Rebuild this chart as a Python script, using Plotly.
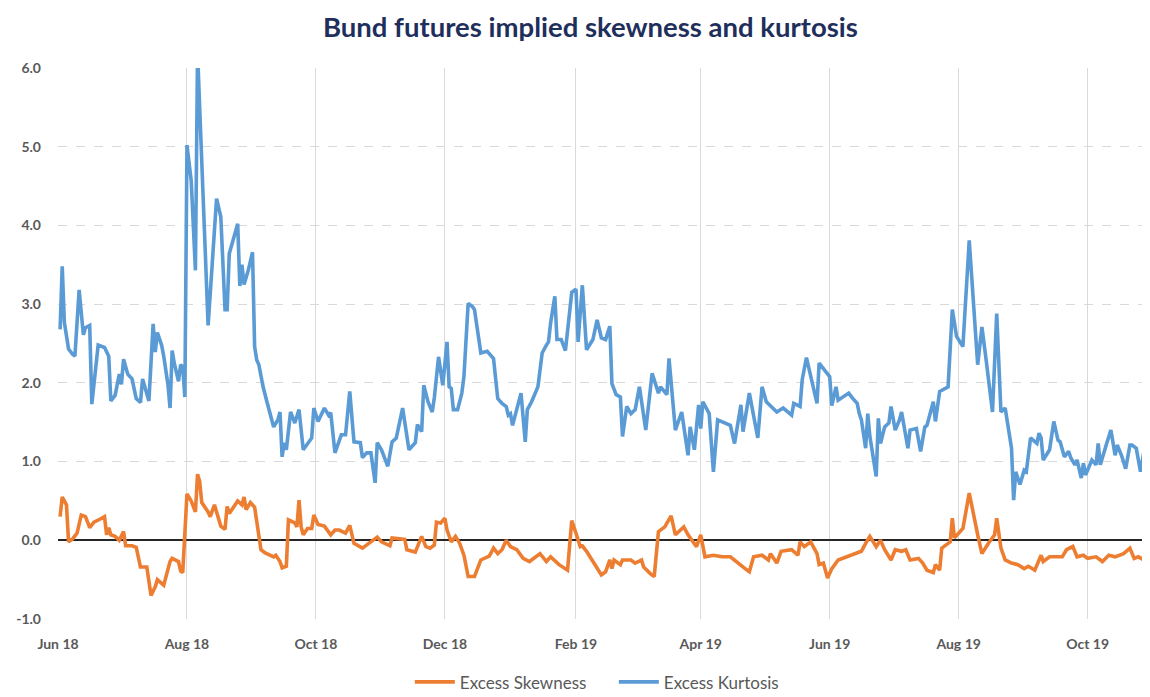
import plotly.graph_objects as go

title_text = "Bund futures implied skewness and kurtosis"

kurt_dates = [
    "2018-06-02", "2018-06-03", "2018-06-04", "2018-06-06", "2018-06-08", "2018-06-09", "2018-06-11",
    "2018-06-13", "2018-06-14", "2018-06-16", "2018-06-17", "2018-06-20", "2018-06-23", "2018-06-25",
    "2018-06-26", "2018-06-28", "2018-06-30", "2018-07-01", "2018-07-02", "2018-07-04", "2018-07-06",
    "2018-07-08", "2018-07-10", "2018-07-11", "2018-07-14", "2018-07-16", "2018-07-17", "2018-07-18",
    "2018-07-20", "2018-07-21", "2018-07-23", "2018-07-24", "2018-07-25", "2018-07-26", "2018-07-28",
    "2018-07-29", "2018-07-30", "2018-07-31", "2018-08-01", "2018-08-03", "2018-08-05", "2018-08-06",
    "2018-08-11", "2018-08-15", "2018-08-17", "2018-08-19", "2018-08-20", "2018-08-21", "2018-08-25",
    "2018-08-26", "2018-08-27", "2018-08-28", "2018-08-30", "2018-09-01", "2018-09-02", "2018-09-03",
    "2018-09-04", "2018-09-06", "2018-09-08", "2018-09-11", "2018-09-13", "2018-09-14", "2018-09-15",
    "2018-09-16", "2018-09-17", "2018-09-19", "2018-09-21", "2018-09-23", "2018-09-25", "2018-09-29",
    "2018-09-30", "2018-10-02", "2018-10-05", "2018-10-07", "2018-10-08", "2018-10-10", "2018-10-13",
    "2018-10-15", "2018-10-17", "2018-10-19", "2018-10-22", "2018-10-23", "2018-10-25", "2018-10-27",
    "2018-10-29", "2018-10-30", "2018-11-01", "2018-11-04", "2018-11-06", "2018-11-08", "2018-11-11",
    "2018-11-14", "2018-11-17", "2018-11-18", "2018-11-20", "2018-11-21", "2018-11-23", "2018-11-25",
    "2018-11-26", "2018-11-28", "2018-11-30", "2018-12-02", "2018-12-03", "2018-12-04", "2018-12-05",
    "2018-12-07", "2018-12-09", "2018-12-10", "2018-12-12", "2018-12-14", "2018-12-15", "2018-12-18",
    "2018-12-21", "2018-12-24", "2018-12-26", "2018-12-28", "2018-12-30", "2018-12-31", "2019-01-01",
    "2019-01-02", "2019-01-06", "2019-01-07", "2019-01-08", "2019-01-09", "2019-01-11", "2019-01-14",
    "2019-01-16", "2019-01-18", "2019-01-19", "2019-01-20", "2019-01-22", "2019-01-23", "2019-01-25",
    "2019-01-27", "2019-01-29", "2019-01-30", "2019-02-01", "2019-02-02", "2019-02-04", "2019-02-06",
    "2019-02-09", "2019-02-11", "2019-02-13", "2019-02-15", "2019-02-17", "2019-02-18", "2019-02-20",
    "2019-02-22", "2019-02-23", "2019-02-25", "2019-02-27", "2019-03-01", "2019-03-03", "2019-03-06",
    "2019-03-09", "2019-03-12", "2019-03-13", "2019-03-16", "2019-03-17", "2019-03-20", "2019-03-23",
    "2019-03-26", "2019-03-27", "2019-03-29", "2019-03-31", "2019-04-01", "2019-04-02", "2019-04-05",
    "2019-04-07", "2019-04-09", "2019-04-15", "2019-04-17", "2019-04-20", "2019-04-21", "2019-04-24",
    "2019-04-28", "2019-04-30", "2019-05-02", "2019-05-07", "2019-05-10", "2019-05-14", "2019-05-15",
    "2019-05-18", "2019-05-19", "2019-05-21", "2019-05-23", "2019-05-26", "2019-05-27", "2019-05-30",
    "2019-06-01", "2019-06-02", "2019-06-04", "2019-06-05", "2019-06-07", "2019-06-10", "2019-06-12",
    "2019-06-14", "2019-06-15", "2019-06-16", "2019-06-18", "2019-06-19", "2019-06-20", "2019-06-23",
    "2019-06-24", "2019-06-25", "2019-06-27", "2019-06-29", "2019-06-30", "2019-07-02", "2019-07-04",
    "2019-07-05", "2019-07-08", "2019-07-09", "2019-07-12", "2019-07-14", "2019-07-16", "2019-07-17",
    "2019-07-20", "2019-07-21", "2019-07-23", "2019-07-27", "2019-07-29", "2019-07-31", "2019-08-03",
    "2019-08-06", "2019-08-10", "2019-08-12", "2019-08-14", "2019-08-17", "2019-08-19", "2019-08-21",
    "2019-08-23", "2019-08-26", "2019-08-27", "2019-08-28", "2019-08-30", "2019-09-01", "2019-09-02",
    "2019-09-04", "2019-09-07", "2019-09-08", "2019-09-09", "2019-09-10", "2019-09-13", "2019-09-15",
    "2019-09-17", "2019-09-18", "2019-09-20", "2019-09-22", "2019-09-23", "2019-09-25", "2019-09-26",
    "2019-09-28", "2019-09-29", "2019-09-30", "2019-10-03", "2019-10-05", "2019-10-06", "2019-10-07",
    "2019-10-10", "2019-10-12", "2019-10-14", "2019-10-15", "2019-10-17", "2019-10-19", "2019-10-21",
    "2019-10-22", "2019-10-24", "2019-10-26", "2019-10-28", "2019-10-31",
]
kurt_values = [
    2.68, 3.48, 2.77, 2.43, 2.36, 2.34, 3.18,
    2.61, 2.70, 2.73, 1.73, 2.48, 2.45, 2.34,
    1.77, 1.84, 2.11, 1.98, 2.30, 2.11, 2.05,
    1.80, 1.75, 2.05, 1.77, 2.75, 2.39, 2.64,
    2.48, 2.34, 1.98, 1.68, 2.41, 2.25, 2.02,
    2.23, 2.20, 1.82, 5.02, 4.57, 3.43, 6.20,
    2.73, 4.34, 4.11, 2.93, 2.93, 3.64, 4.02,
    3.23, 3.50, 3.25, 3.43, 3.66, 2.46, 2.29,
    2.23, 1.95, 1.74, 1.44, 1.53, 1.63, 1.06,
    1.24, 1.15, 1.63, 1.49, 1.66, 1.15, 1.30,
    1.68, 1.51, 1.68, 1.59, 1.62, 1.11, 1.34,
    1.34, 1.89, 1.25, 1.24, 1.05, 1.11, 1.11,
    0.73, 1.24, 1.15, 0.94, 1.25, 1.30, 1.68,
    1.15, 1.24, 1.47, 1.38, 1.97, 1.76, 1.63,
    1.81, 2.33, 1.97, 2.52, 1.95, 1.93, 1.66,
    1.66, 1.87, 2.08, 3.01, 2.97, 2.93, 2.38,
    2.40, 2.31, 1.80, 1.74, 1.70, 1.59, 1.61,
    1.46, 1.87, 1.61, 1.25, 1.66, 1.76, 1.95,
    2.38, 2.48, 2.52, 2.76, 3.10, 2.55, 2.55,
    2.41, 2.97, 3.15, 3.19, 2.52, 3.24, 2.42,
    2.55, 2.80, 2.57, 2.55, 2.72, 1.99, 1.85,
    1.82, 1.32, 1.70, 1.61, 1.66, 1.95, 1.40,
    2.12, 1.87, 1.95, 1.85, 2.31, 1.40, 1.63,
    1.08, 1.44, 1.15, 1.72, 1.42, 1.76, 1.61,
    0.87, 1.53, 1.46, 1.23, 1.72, 1.38, 1.87,
    1.30, 1.95, 1.76, 1.63, 1.68, 1.59, 1.74,
    1.70, 2.04, 2.32, 2.08, 1.74, 2.25, 2.14,
    2.08, 1.71, 1.95, 1.78, 1.82, 1.87, 1.80,
    1.74, 1.61, 1.53, 1.17, 1.61, 1.32, 0.81,
    1.55, 1.23, 1.44, 1.49, 1.70, 1.40, 1.53,
    1.63, 1.17, 1.40, 1.42, 1.13, 1.44, 1.46,
    1.76, 1.51, 1.89, 1.95, 2.93, 2.59, 2.46,
    3.81, 2.23, 2.71, 2.29, 1.63, 2.88, 1.63,
    1.68, 1.17, 0.51, 0.87, 0.71, 0.89, 0.87,
    1.30, 1.23, 1.36, 1.30, 1.02, 1.15, 1.51,
    1.27, 1.25, 1.06, 1.13, 1.05, 0.96, 1.02,
    0.79, 0.98, 0.83, 1.02, 0.96, 1.23, 0.96,
    1.23, 1.40, 1.08, 1.21, 1.08, 0.91, 1.21,
    1.21, 1.17, 0.87, 1.19, 1.20,
]

skew_dates = [
    "2018-06-02", "2018-06-03", "2018-06-05", "2018-06-06", "2018-06-08", "2018-06-10", "2018-06-12",
    "2018-06-14", "2018-06-16", "2018-06-18", "2018-06-21", "2018-06-23", "2018-06-24", "2018-06-25",
    "2018-06-26", "2018-06-28", "2018-06-30", "2018-07-02", "2018-07-03", "2018-07-06", "2018-07-08",
    "2018-07-10", "2018-07-13", "2018-07-15", "2018-07-17", "2018-07-18", "2018-07-21", "2018-07-24",
    "2018-07-25", "2018-07-28", "2018-07-29", "2018-07-30", "2018-08-01", "2018-08-03", "2018-08-05",
    "2018-08-06", "2018-08-07", "2018-08-08", "2018-08-11", "2018-08-12", "2018-08-14", "2018-08-16",
    "2018-08-17", "2018-08-19", "2018-08-20", "2018-08-21", "2018-08-23", "2018-08-25", "2018-08-27",
    "2018-08-28", "2018-08-29", "2018-08-31", "2018-09-02", "2018-09-05", "2018-09-07", "2018-09-11",
    "2018-09-12", "2018-09-14", "2018-09-15", "2018-09-17", "2018-09-18", "2018-09-21", "2018-09-22",
    "2018-09-23", "2018-09-24", "2018-09-25", "2018-09-27", "2018-09-29", "2018-09-30", "2018-10-02",
    "2018-10-05", "2018-10-08", "2018-10-10", "2018-10-12", "2018-10-15", "2018-10-17", "2018-10-19",
    "2018-10-23", "2018-10-26", "2018-10-30", "2018-11-01", "2018-11-05", "2018-11-06", "2018-11-10",
    "2018-11-12", "2018-11-13", "2018-11-17", "2018-11-20", "2018-11-22", "2018-11-24", "2018-11-26",
    "2018-11-27", "2018-11-29", "2018-12-01", "2018-12-02", "2018-12-04", "2018-12-06", "2018-12-08",
    "2018-12-10", "2018-12-12", "2018-12-15", "2018-12-18", "2018-12-22", "2018-12-24", "2018-12-26",
    "2018-12-28", "2018-12-30", "2019-01-01", "2019-01-04", "2019-01-07", "2019-01-10", "2019-01-15",
    "2019-01-18", "2019-01-20", "2019-01-24", "2019-01-28", "2019-01-30", "2019-02-01", "2019-02-03",
    "2019-02-04", "2019-02-06", "2019-02-10", "2019-02-13", "2019-02-15", "2019-02-17", "2019-02-18",
    "2019-02-19", "2019-02-22", "2019-02-23", "2019-02-27", "2019-03-01", "2019-03-04", "2019-03-05",
    "2019-03-08", "2019-03-10", "2019-03-12", "2019-03-15", "2019-03-18", "2019-03-20", "2019-03-24",
    "2019-03-26", "2019-03-30", "2019-04-01", "2019-04-03", "2019-04-07", "2019-04-11", "2019-04-15",
    "2019-04-22", "2019-04-24", "2019-04-26", "2019-04-30", "2019-05-03", "2019-05-04", "2019-05-07",
    "2019-05-09", "2019-05-14", "2019-05-17", "2019-05-18", "2019-05-20", "2019-05-23", "2019-05-26",
    "2019-05-27", "2019-05-29", "2019-05-31", "2019-06-02", "2019-06-05", "2019-06-09", "2019-06-12",
    "2019-06-16", "2019-06-18", "2019-06-20", "2019-06-23", "2019-06-25", "2019-06-27", "2019-06-30",
    "2019-07-02", "2019-07-05", "2019-07-07", "2019-07-09", "2019-07-13", "2019-07-15", "2019-07-17",
    "2019-07-20", "2019-07-21", "2019-07-23", "2019-07-24", "2019-07-26", "2019-07-28", "2019-07-29",
    "2019-07-30", "2019-08-03", "2019-08-06", "2019-08-10", "2019-08-12", "2019-08-15", "2019-08-18",
    "2019-08-19", "2019-08-21", "2019-08-23", "2019-08-26", "2019-08-29", "2019-09-01", "2019-09-03",
    "2019-09-06", "2019-09-09", "2019-09-10", "2019-09-13", "2019-09-19", "2019-09-21", "2019-09-24",
    "2019-09-26", "2019-09-29", "2019-10-01", "2019-10-05", "2019-10-08", "2019-10-11", "2019-10-14",
    "2019-10-18", "2019-10-21", "2019-10-23", "2019-10-25", "2019-10-29", "2019-10-30", "2019-10-31",
]
skew_values = [
    0.30, 0.55, 0.45, -0.02, 0.02, 0.09, 0.32,
    0.30, 0.16, 0.23, 0.27, 0.30, 0.07, 0.16,
    0.07, 0.05, 0.00, 0.11, -0.07, -0.07, -0.09,
    -0.34, -0.34, -0.70, -0.59, -0.50, -0.57, -0.27,
    -0.23, -0.27, -0.39, -0.41, 0.59, 0.50, 0.36,
    0.84, 0.75, 0.48, 0.36, 0.30, 0.45, 0.25,
    0.18, 0.14, 0.43, 0.34, 0.43, 0.50, 0.45,
    0.55, 0.39, 0.48, 0.42, -0.12, -0.16, -0.21,
    -0.19, -0.27, -0.35, -0.33, 0.26, 0.22, 0.17,
    0.51, 0.17, 0.07, 0.15, 0.15, 0.32, 0.20,
    0.18, 0.07, 0.13, 0.13, 0.09, 0.19, -0.04,
    -0.10, -0.04, 0.04, -0.02, -0.07, 0.03, 0.02,
    0.01, -0.12, -0.15, 0.05, -0.08, -0.10, -0.06,
    0.23, 0.22, 0.28, 0.13, -0.02, 0.05, -0.04,
    -0.19, -0.46, -0.46, -0.25, -0.20, -0.10, -0.17,
    -0.12, 0.00, -0.08, -0.12, -0.23, -0.27, -0.17,
    -0.27, -0.21, -0.31, -0.38, 0.25, 0.09, -0.08,
    -0.07, -0.14, -0.31, -0.44, -0.40, -0.25, -0.36,
    -0.25, -0.31, -0.25, -0.25, -0.29, -0.25, -0.34,
    -0.42, -0.46, 0.11, 0.17, 0.31, 0.07, 0.17,
    0.07, -0.08, 0.07, -0.21, -0.19, -0.21, -0.21,
    -0.36, -0.40, -0.21, -0.19, -0.25, -0.17, -0.29,
    -0.14, -0.12, -0.19, -0.02, -0.08, -0.02, -0.17,
    -0.31, -0.29, -0.48, -0.36, -0.25, -0.21, -0.17,
    -0.14, -0.04, 0.05, -0.08, 0.00, -0.12, -0.25,
    -0.12, -0.14, -0.12, -0.25, -0.23, -0.29, -0.38,
    -0.41, -0.31, -0.38, -0.10, -0.06, -0.02, 0.28,
    0.03, 0.15, 0.60, 0.07, -0.17, -0.04, 0.07,
    0.28, -0.10, -0.25, -0.29, -0.31, -0.36, -0.33,
    -0.38, -0.19, -0.27, -0.21, -0.21, -0.12, -0.08,
    -0.21, -0.19, -0.23, -0.21, -0.27, -0.19, -0.21,
    -0.17, -0.10, -0.23, -0.21, -0.27, -0.34, -0.33,
]

series_names = ["Excess Skewness", "Excess Kurtosis"]
y_tick_values = [-1, 0, 1, 2, 3, 4, 5, 6]
y_tick_labels = ["-1.0", "0.0", "1.0", "2.0", "3.0", "4.0", "5.0", "6.0"]

ORANGE = "#ED7D31"
BLUE = "#5B9BD5"
GRID = "#D9D9D9"
TICK = "#595959"
FONT = "Lato, 'Open Sans', sans-serif"

fig = go.Figure()
fig.add_trace(go.Scatter(
    x=skew_dates, y=skew_values, name=series_names[0], mode="lines",
    line=dict(color=ORANGE, width=3.6),
))
fig.add_trace(go.Scatter(
    x=kurt_dates, y=kurt_values, name=series_names[1], mode="lines",
    line=dict(color=BLUE, width=3.6),
))

# the page body adds an 8px offset, so the figure is sized to end at the window edges
fig.update_layout(
    width=1142, height=689,
    paper_bgcolor="white", plot_bgcolor="white",
    margin=dict(l=50, r=0, t=60, b=78, autoexpand=False),
    title=dict(
        text="<b>" + title_text + "</b>", x=0.51, xanchor="center", y=0.972, yanchor="middle",
        font=dict(family=FONT, size=27.5, color="#1F2F5C"),
    ),
    showlegend=True,
    legend=dict(
        orientation="h", x=0.509, xanchor="center", y=-0.115, yanchor="middle",
        font=dict(family=FONT, size=17, color=TICK),
        itemwidth=40, traceorder="normal",
        entrywidth=149, entrywidthmode="pixels",
    ),
    font=dict(family=FONT),
)

fig.update_xaxes(
    type="date",
    range=["2018-06-01", "2019-10-30 12:00"],
    tick0="2018-06-01", dtick="M2", tickformat="%b %y",
    showgrid=True, gridcolor=GRID, gridwidth=1,
    showline=False, zeroline=False, ticks="",
    ticklabelstandoff=15,
    tickfont=dict(family=FONT, size=14, color=TICK, weight="bold"),
)
fig.update_yaxes(
    range=[-1, 6],
    tickvals=y_tick_values, ticktext=y_tick_labels,
    showgrid=True, gridcolor=GRID, gridwidth=1, griddash="dash",
    zeroline=True, zerolinecolor="#262626", zerolinewidth=1.5,
    showline=False, ticks="",
    ticklabelstandoff=16,
    tickfont=dict(family=FONT, size=14, color=TICK, weight="bold"),
)

fig.write_html("out.html")
